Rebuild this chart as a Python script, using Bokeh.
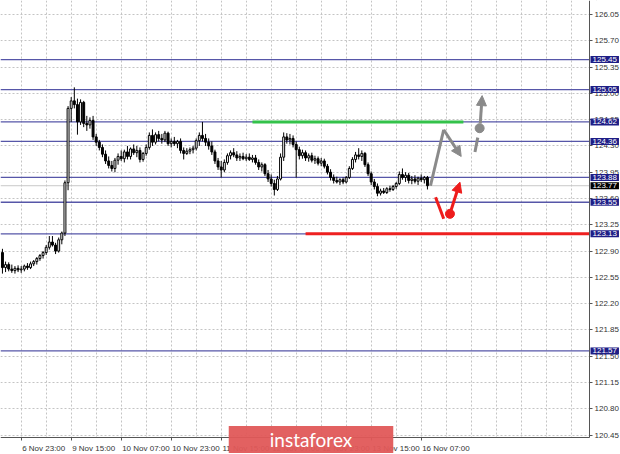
from bokeh.plotting import figure
from bokeh.models import (Range1d, FixedTicker, Label, Arrow, NormalHead, BoxAnnotation,
                          ColumnDataSource, NumeralTickFormatter)
from bokeh.embed import file_html
from bokeh.resources import INLINE

FONT = "Liberation Sans"

# ---- H1 candles (bar index 0 = 6 Nov 17:00) ----
first_open = 122.88
closes = [122.68, 122.72, 122.66, 122.64, 122.67, 122.65, 122.66, 122.70, 122.68, 122.73,
          122.76, 122.80, 122.84, 122.88, 122.95, 123.02, 122.98, 122.90, 123.05, 123.14,
          123.81, 124.80, 124.90, 124.85, 124.62, 124.88, 124.60, 124.58, 124.64, 124.42,
          124.35, 124.28, 124.19, 124.10, 124.04, 124.00, 124.11, 124.16, 124.13, 124.22,
          124.16, 124.26, 124.21, 124.24, 124.12, 124.20, 124.28, 124.44, 124.35, 124.45,
          124.40, 124.38, 124.47, 124.33, 124.36, 124.33, 124.36, 124.24, 124.20, 124.23,
          124.25, 124.27, 124.37, 124.44, 124.40, 124.35, 124.30, 124.22, 124.10, 124.02,
          123.98, 124.08, 124.17, 124.21, 124.18, 124.14, 124.16, 124.13, 124.15, 124.12,
          124.14, 124.08, 124.02, 124.05, 123.93, 123.86, 123.80, 123.72, 123.86, 124.15,
          124.42, 124.38, 124.40, 124.32, 124.25, 124.17, 124.21, 124.14, 124.17, 124.11,
          124.13, 124.07, 124.10, 124.03, 123.95, 123.88, 123.84, 123.82, 123.85, 123.82,
          123.88, 124.00, 124.12, 124.18, 124.16, 124.20, 124.05, 123.93, 123.82, 123.76,
          123.67, 123.70, 123.68, 123.73, 123.72, 123.76, 123.80, 123.92, 123.88, 123.91,
          123.84, 123.86, 123.83, 123.87, 123.85, 123.88, 123.77]
highs = [122.93, 122.76, 122.75, 122.72, 122.70, 122.71, 122.70, 122.72, 122.74, 122.76,
         122.78, 122.82, 122.86, 122.90, 122.98, 123.10, 123.10, 123.01, 123.08, 123.16,
         123.84, 124.83, 124.95, 125.08, 124.93, 124.92, 124.90, 124.70, 124.68, 124.70,
         124.46, 124.38, 124.32, 124.24, 124.16, 124.10, 124.14, 124.20, 124.24, 124.25,
         124.30, 124.28, 124.32, 124.30, 124.28, 124.22, 124.32, 124.48, 124.52, 124.48,
         124.50, 124.46, 124.50, 124.49, 124.40, 124.42, 124.38, 124.40, 124.28, 124.27,
         124.28, 124.30, 124.40, 124.48, 124.62, 124.46, 124.40, 124.36, 124.25, 124.14,
         124.10, 124.12, 124.20, 124.24, 124.27, 124.23, 124.20, 124.21, 124.19, 124.20,
         124.18, 124.18, 124.12, 124.08, 124.07, 123.98, 123.92, 123.85, 123.90, 124.20,
         124.48, 124.47, 124.46, 124.44, 124.36, 124.29, 124.25, 124.24, 124.20, 124.21,
         124.17, 124.16, 124.14, 124.13, 124.06, 123.99, 123.92, 123.89, 123.87, 123.88,
         123.90, 124.03, 124.15, 124.22, 124.27, 124.24, 124.22, 124.08, 123.96, 123.86,
         123.80, 123.73, 123.74, 123.75, 123.77, 123.78, 123.82, 123.96, 124.00, 123.95,
         123.94, 123.90, 123.91, 123.89, 123.92, 123.90, 123.90]
lows = [122.60, 122.62, 122.63, 122.61, 122.60, 122.62, 122.61, 122.63, 122.65, 122.66,
        122.70, 122.72, 122.77, 122.80, 122.85, 122.92, 122.96, 122.86, 122.88, 122.99,
        123.10, 123.71, 124.62, 124.80, 124.45, 124.58, 124.55, 124.50, 124.53, 124.38,
        124.30, 124.24, 124.15, 124.06, 124.00, 123.96, 123.95, 124.05, 124.10, 124.08,
        124.12, 124.12, 124.18, 124.15, 124.08, 124.09, 124.17, 124.25, 124.30, 124.32,
        124.36, 124.33, 124.35, 124.30, 124.28, 124.30, 124.27, 124.20, 124.12, 124.18,
        124.19, 124.20, 124.24, 124.30, 124.36, 124.30, 124.25, 124.18, 124.06, 123.98,
        123.88, 123.95, 124.05, 124.12, 124.15, 124.10, 124.10, 124.11, 124.10, 124.10,
        124.08, 124.05, 123.98, 123.96, 123.90, 123.82, 123.76, 123.64, 123.70, 123.84,
        124.10, 124.33, 124.32, 124.28, 123.88, 124.12, 124.13, 124.10, 124.09, 124.08,
        124.06, 124.04, 124.03, 124.00, 123.92, 123.84, 123.80, 123.80, 123.78, 123.79,
        123.80, 123.86, 123.98, 124.08, 124.12, 124.10, 124.02, 123.90, 123.78, 123.72,
        123.63, 123.64, 123.66, 123.66, 123.69, 123.70, 123.73, 123.78, 123.85, 123.82,
        123.80, 123.79, 123.80, 123.78, 123.82, 123.80, 123.72]

# ---- axes ----
xtick_bars = [6, 22, 38, 54, 70, 86, 102, 118, 134]
xtick_labels = ["6 Nov 23:00", "9 Nov 15:00", "10 Nov 07:00", "10 Nov 23:00",
                "11 Nov 15:00", "12 Nov 07:00", "12 Nov 23:00", "13 Nov 15:00",
                "16 Nov 07:00"]
ytick_values = [120.45, 120.80, 121.15, 121.50, 121.85, 122.20, 122.55, 122.90, 123.25,
                123.60, 123.95, 124.30, 124.65, 125.00, 125.35, 125.70, 126.05]

# ---- levels ----
level_prices = [125.45, 125.05, 124.62, 124.36, 123.88, 123.55, 123.13, 121.57]
level_labels = ["125.45", "125.05", "124.62", "124.36", "123.88", "123.55", "123.13", "121.57"]
current_price = 123.77
current_label = "123.77"

green_price = 124.62
green_bars = [80.0, 147.5]
red_price = 123.13
red_start_bar = 97.0

# forecast arrows (bar, price)
gray_path_x = [136.97, 141.2]
gray_path_y = [123.77, 124.515]
gray_arrow = [141.2, 124.515, 146.8, 124.16]
gray_dash_x = [151.2, 152.1]
gray_dash_y = [124.22, 124.41]
gray_dot = [152.7, 124.536]
gray_arrow2 = [152.9, 124.60, 153.5, 124.97]
red_path_x = [138.6, 141.2]
red_path_y = [123.617, 123.33]
red_dot = [143.2, 123.396]
red_arrow = [143.6, 123.45, 146.4, 123.817]

# ---- layout (frame = whole figure, axes drawn at fixed locations) ----
W, H = 620, 454
px_per_bar = 3.125
x_start = -0.624
axis_x = x_start + 589 / px_per_bar       # price axis position (bars)
x_end = x_start + W / px_per_bar
px_per_unit = 75.1
y_top = 126.05 + 14 / px_per_unit
axis_y = y_top - 437 / px_per_unit       # time axis position (price)
y_bottom = y_top - H / px_per_unit

p = figure(width=W, height=H, x_range=Range1d(x_start, x_end),
           y_range=Range1d(y_bottom, y_top), y_axis_location="right",
           output_backend="svg", toolbar_location=None,
           min_border_left=0, min_border_top=0, min_border_right=0, min_border_bottom=0)
p.outline_line_color = None
p.background_fill_color = "white"

# grid
p.xgrid.ticker = FixedTicker(ticks=list(range(-2, 192, 8)))
p.ygrid.ticker = FixedTicker(ticks=ytick_values)
for g in (p.xgrid, p.ygrid):
    g.grid_line_color = "#c4c4c4"
    g.grid_line_dash = "2 2"
    g.grid_line_width = 1
# keep the grid out of the axis-label strips
p.add_layout(BoxAnnotation(left=axis_x, fill_color="white", fill_alpha=1, line_color=None, level="underlay"))
p.add_layout(BoxAnnotation(top=axis_y, fill_color="white", fill_alpha=1, line_color=None, level="underlay"))

# y axis (price, right)
yax = p.yaxis[0]
yax.fixed_location = axis_x
yax.bounds = (axis_y, y_top)
yax.ticker = FixedTicker(ticks=ytick_values)
yax.formatter = NumeralTickFormatter(format="0.00")
yax.major_tick_out = 3
yax.major_label_standoff = 2
yax.major_tick_line_color = "#555555"
yax.minor_tick_out = 0
yax.minor_tick_in = 0

# x axis (time, below): labels start at their tick like MT4
CW = {"0": .556, "1": .556, "2": .556, "3": .556, "4": .556, "5": .556, "6": .556,
      "7": .556, "8": .556, "9": .556, " ": .278, ":": .278, "N": .722, "o": .556, "v": .5}
label_centers = [round(b + sum(CW.get(ch, .55) for ch in s) * 8 / 2 / px_per_bar + 0.3, 3)
                 for b, s in zip(xtick_bars, xtick_labels)]
xax = p.xaxis[0]
xax.fixed_location = axis_y
xax.bounds = (x_start, axis_x)
xax.ticker = FixedTicker(ticks=label_centers, minor_ticks=xtick_bars)
xax.major_label_overrides = {c: s for c, s in zip(label_centers, xtick_labels)}
xax.major_tick_line_color = None
xax.major_tick_out = 0
xax.minor_tick_line_color = "#555555"
xax.minor_tick_out = 3
xax.minor_tick_in = 0
xax.major_label_standoff = 3

for ax in (xax, yax):
    ax.axis_line_color = "#555555"
    ax.major_tick_in = 0
    ax.major_label_text_font = FONT
    ax.major_label_text_font_size = "8px"
    ax.major_label_text_color = "#333333"

# current price line and level lines
p.segment(x0=[x_start], y0=[current_price], x1=[axis_x], y1=[current_price],
          line_color="#c8c8c8", line_width=1)
p.segment(x0=[x_start] * len(level_prices), y0=level_prices,
          x1=[axis_x] * len(level_prices), y1=level_prices,
          line_color="#5656a8", line_width=1.3)

# candles
n = len(closes)
opens = [first_open] + closes[:-1]
xs = list(range(n))
tops = [max(o, c) for o, c in zip(opens, closes)]
bots = [min(o, c) for o, c in zip(opens, closes)]
fills = ["white" if c >= o else "black" for o, c in zip(opens, closes)]
src = ColumnDataSource(dict(x=xs, top=tops, bottom=bots, high=highs, low=lows, fill=fills))
p.segment(x0="x", y0="low", x1="x", y1="high", source=src, line_color="black", line_width=1)
p.vbar(x="x", width=0.62, top="top", bottom="bottom", source=src,
       fill_color="fill", line_color="black", line_width=1)

# green / red levels
p.line(green_bars, [green_price, green_price], line_color="#33c24a", line_width=3)
p.line([red_start_bar, axis_x], [red_price, red_price], line_color="#ee2020", line_width=3)

GRAY = "#8a8a8a"
RED = "#ee1c1c"
p.line(gray_path_x, gray_path_y, line_color=GRAY, line_width=3)
p.add_layout(Arrow(end=NormalHead(size=10, fill_color=GRAY, line_color=GRAY),
                   x_start=gray_arrow[0], y_start=gray_arrow[1], x_end=gray_arrow[2], y_end=gray_arrow[3],
                   line_color=GRAY, line_width=3))
p.line(gray_dash_x, gray_dash_y, line_color=GRAY, line_width=3)
p.scatter([gray_dot[0]], [gray_dot[1]], size=9, color=GRAY)
p.add_layout(Arrow(end=NormalHead(size=10, fill_color=GRAY, line_color=GRAY),
                   x_start=gray_arrow2[0], y_start=gray_arrow2[1], x_end=gray_arrow2[2], y_end=gray_arrow2[3],
                   line_color=GRAY, line_width=3))
p.line(red_path_x, red_path_y, line_color=RED, line_width=3)
p.scatter([red_dot[0]], [red_dot[1]], size=9, color=RED)
p.add_layout(Arrow(end=NormalHead(size=10, fill_color=RED, line_color=RED),
                   x_start=red_arrow[0], y_start=red_arrow[1], x_end=red_arrow[2], y_end=red_arrow[3],
                   line_color=RED, line_width=3))

# price boxes on the price axis
for lv, txt in zip(level_prices, level_labels):
    p.add_layout(Label(x=axis_x, y=lv, x_offset=1, text=txt, text_align="left",
                       text_baseline="middle", text_font=FONT, text_font_size="8px",
                       text_color="white", background_fill_color="#1e1e86",
                       padding=(2, 1)))
p.add_layout(Label(x=axis_x, y=current_price, x_offset=1, text=current_label, text_align="left",
                   text_baseline="middle", text_font=FONT, text_font_size="8px",
                   text_color="white", background_fill_color="black", padding=(2, 1)))

# logo
logo_x = (310.5 - 1.95) / px_per_bar
logo_y = y_top - 439 / px_per_unit
p.add_layout(Label(x=logo_x, y=logo_y, text="instaforex", text_align="center",
                   text_baseline="middle", text_font="Lato", text_font_size="19px",
                   text_color="white", background_fill_color="#e05858",
                   background_fill_alpha=0.95, padding=(41, 2)))

open("out.html", "w").write(file_html(p, INLINE))
